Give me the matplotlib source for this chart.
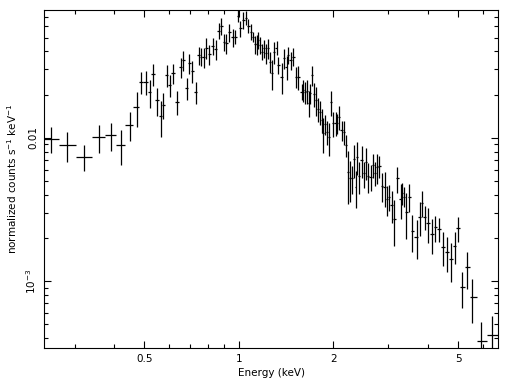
import numpy as np
import matplotlib
matplotlib.use("Agg")
import matplotlib.pyplot as plt
from matplotlib.ticker import FixedLocator, FixedFormatter, NullFormatter

# spectrum: bin centre (keV), normalized counts s^-1 keV^-1, 1-sigma error
energy = [0.2528, 0.2844, 0.322, 0.3595, 0.391, 0.4206, 0.4503, 0.4730, 0.4893, 0.5053,
          0.5204, 0.5343, 0.5478, 0.5641, 0.5749, 0.5894, 0.6038, 0.6159, 0.6369, 0.6531,
          0.6655, 0.6824, 0.6966, 0.7094, 0.7290, 0.7452, 0.7596, 0.7731, 0.7892, 0.8037,
          0.8259, 0.8442, 0.8648, 0.8810, 0.8973, 0.9138, 0.9342, 0.9563, 0.9747, 0.9942,
          1.0125, 1.0335, 1.0541, 1.0737, 1.0935, 1.1123, 1.1261, 1.1402, 1.1537, 1.1682,
          1.1880, 1.2031, 1.2182, 1.2417, 1.2573, 1.2730, 1.2973, 1.3202, 1.3358, 1.3695,
          1.3931, 1.4210, 1.4378, 1.4633, 1.4915, 1.5212, 1.5470, 1.586, 1.607, 1.628,
          1.649, 1.670, 1.692, 1.717, 1.742, 1.765, 1.791, 1.814, 1.837, 1.858,
          1.882, 1.905, 1.942, 1.967, 2.000, 2.035, 2.059, 2.089, 2.127, 2.163,
          2.195, 2.233, 2.261, 2.289, 2.328, 2.357, 2.385, 2.420, 2.463, 2.505,
          2.542, 2.585, 2.631, 2.682, 2.722, 2.762, 2.803, 2.864, 2.922, 2.959,
          3.015, 3.075, 3.128, 3.207, 3.279, 3.317, 3.366, 3.426, 3.491, 3.580,
          3.687, 3.777, 3.841, 3.917, 4.014, 4.133, 4.237, 4.351, 4.481, 4.615,
          4.742, 4.883, 5.003, 5.151, 5.343, 5.559, 5.937, 6.437]
rate = [0.00980, 0.00885, 0.00737, 0.01007, 0.01039, 0.00885, 0.01227, 0.01631, 0.02436, 0.02460,
        0.02075, 0.02770, 0.01824, 0.01411, 0.01692, 0.02740, 0.02333, 0.02816, 0.01775, 0.03116,
        0.03486, 0.02223, 0.03322, 0.02922, 0.02084, 0.03777, 0.03675, 0.03658, 0.04247, 0.03838,
        0.04365, 0.04160, 0.05597, 0.06020, 0.04655, 0.04581, 0.05464, 0.05005, 0.05045, 0.07070,
        0.05798, 0.06629, 0.06846, 0.06020, 0.05492, 0.05045, 0.04508, 0.04486, 0.04806, 0.04436,
        0.03983, 0.04207, 0.03882, 0.04207, 0.03392, 0.02816, 0.03983, 0.04247, 0.03217, 0.02665,
        0.03583, 0.03131, 0.03777, 0.03486, 0.03675, 0.02665, 0.02665, 0.02095, 0.02153, 0.02084,
        0.02118, 0.01747, 0.02051, 0.02740, 0.02019, 0.01833, 0.01586, 0.01512, 0.01329, 0.01074,
        0.01247, 0.01102, 0.01007, 0.01767, 0.01261, 0.01273, 0.01261, 0.01402, 0.01132, 0.01102,
        0.00890, 0.00579, 0.00521, 0.00521, 0.00707, 0.00455, 0.00737, 0.00541, 0.00699, 0.00565,
        0.00680, 0.00541, 0.00535, 0.00645, 0.00565, 0.00622, 0.00635, 0.00460, 0.00455, 0.00372,
        0.00388, 0.00339, 0.00270, 0.00521, 0.00372, 0.00409, 0.00388, 0.00305, 0.00388, 0.00225,
        0.00204, 0.00281, 0.00352, 0.00281, 0.00253, 0.00212, 0.00237, 0.00230, 0.00174, 0.00159,
        0.00142, 0.00176, 0.00233, 0.000904, 0.001246, 0.000770, 0.000383, 0.000420]
rate_err = [0.00204, 0.00212, 0.00153, 0.00226, 0.00233, 0.00241, 0.00275, 0.00444, 0.00429, 0.00472,
            0.00465, 0.00488, 0.00409, 0.00406, 0.00352, 0.00482, 0.00411, 0.00451, 0.00341, 0.00499,
            0.00558, 0.00391, 0.00532, 0.00514, 0.00367, 0.00544, 0.00529, 0.00585, 0.00680, 0.00614,
            0.00559, 0.00666, 0.00716, 0.00771, 0.00596, 0.00733, 0.00787, 0.00721, 0.00565, 0.00679,
            0.00742, 0.00849, 0.00767, 0.00674, 0.00703, 0.00404, 0.00649, 0.00718, 0.00615, 0.00568,
            0.00510, 0.00606, 0.00621, 0.00673, 0.00543, 0.00676, 0.00701, 0.00476, 0.00412, 0.00640,
            0.00573, 0.00601, 0.00483, 0.00502, 0.00529, 0.00426, 0.00512, 0.00268, 0.00379, 0.00367,
            0.00407, 0.00363, 0.00328, 0.00438, 0.00388, 0.00411, 0.00305, 0.00290, 0.00255, 0.00292,
            0.00200, 0.00212, 0.00258, 0.00339, 0.00242, 0.00244, 0.00202, 0.00269, 0.00181, 0.00212,
            0.00157, 0.00232, 0.00167, 0.00117, 0.00181, 0.00131, 0.00189, 0.00138, 0.00179, 0.00117,
            0.00174, 0.00130, 0.00111, 0.00124, 0.00108, 0.00149, 0.00112, 0.00103, 0.00124, 0.00089,
            0.00081, 0.00087, 0.00095, 0.00108, 0.00101, 0.00072, 0.00062, 0.00107, 0.00087, 0.00065,
            0.00062, 0.00076, 0.00073, 0.00054, 0.00069, 0.00058, 0.00049, 0.00044, 0.00047, 0.00043,
            0.00043, 0.00045, 0.00045, 0.00026, 0.00036, 0.00026, 0.000137, 0.00015]
e_first_lo = 0.237   # low edge of first bin
e_last_hi = 6.72     # high edge of last bin

x_major = [0.5, 1, 2, 5]
x_major_labels = ["0.5", "1", "2", "5"]
x_minor = [0.3, 0.4, 0.6, 0.7, 0.8, 0.9, 3, 4, 6]
y_major = [0.001, 0.01]
y_major_labels = [r"$10^{-3}$", "0.01"]
y_minor = [4e-4, 5e-4, 6e-4, 7e-4, 8e-4, 9e-4, 2e-3, 3e-3, 4e-3, 5e-3, 6e-3, 7e-3, 8e-3, 9e-3,
           0.02, 0.03, 0.04, 0.05, 0.06, 0.07]

e = np.array(energy)
r = np.array(rate)
mids = np.sqrt(e[1:] * e[:-1])
lo = np.r_[e_first_lo, mids]
hi = np.r_[mids, e_last_hi]

plt.rcParams['font.family'] = ['DejaVu Sans']
fig = plt.figure(figsize=(5.06, 3.79), dpi=100)
ax = fig.add_axes([0.087, 0.0818, 0.8978, 0.8918])

ax.errorbar(e, r, xerr=[e - lo, hi - e], yerr=rate_err, fmt='none',
            ecolor='black', elinewidth=0.9, capsize=0)

ax.set_xscale('log')
ax.set_yscale('log')
ax.set_xlim(0.2397, 6.72)
ax.set_ylim(0.000341, 0.0778)

ax.xaxis.set_major_locator(FixedLocator(x_major))
ax.xaxis.set_major_formatter(FixedFormatter(x_major_labels))
ax.xaxis.set_minor_locator(FixedLocator(x_minor))
ax.xaxis.set_minor_formatter(NullFormatter())
ax.yaxis.set_major_locator(FixedLocator(y_major))
ax.yaxis.set_major_formatter(FixedFormatter(y_major_labels))
ax.yaxis.set_minor_locator(FixedLocator(y_minor))
ax.yaxis.set_minor_formatter(NullFormatter())

ax.tick_params(which='both', direction='in', top=True, right=True, width=0.8, labelsize=7.5)
ax.tick_params(which='major', length=5, pad=4)
ax.tick_params(which='minor', length=3)
for lab in ax.get_yticklabels():
    lab.set_rotation(90)
    lab.set_va('center')
for s in ax.spines.values():
    s.set_linewidth(0.8)

ax.set_xlabel("Energy (keV)", fontsize=7.5, labelpad=3)
ax.set_ylabel(r"normalized counts s$^{-1}$ keV$^{-1}$", fontsize=7.5, labelpad=4)

fig.savefig("out.png", dpi=100)
